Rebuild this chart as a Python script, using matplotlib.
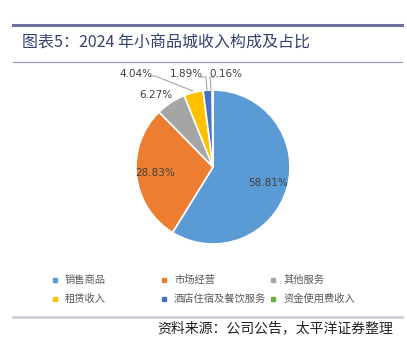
import matplotlib.pyplot as plt
from matplotlib.lines import Line2D
import numpy as np

plt.rcParams['font.family'] = ['Noto Sans CJK SC', 'DejaVu Sans']

# Data
categories = ["销售商品", "市场经营", "其他服务", "租赁收入", "酒店住宿及餐饮服务", "资金使用费收入"]
shares = [58.81, 28.83, 6.27, 4.04, 1.89, 0.16]
colors = ["#5B9BD5", "#ED7D31", "#A5A5A5", "#FFC000", "#4472C4", "#70AD47"]
title = "图表5：2024 年小商品城收入构成及占比"
source = "资料来源：公司公告，太平洋证券整理"

W, H = 407, 343
fig = plt.figure(figsize=(W / 100, H / 100), dpi=100)


def fx(px):
    return px / W


def fy(py):
    return 1 - py / H


# Header / footer rules
fig.add_artist(Line2D([fx(13), fx(402)], [fy(25), fy(25)], color="#6f6f9c", lw=2.2))
fig.add_artist(Line2D([fx(13), fx(402)], [fy(62), fy(62)], color="#9d9dc6", lw=0.9))
fig.add_artist(Line2D([fx(13), fx(402)], [fy(317), fy(317)], color="#c9c9dd", lw=1.8))
fig.text(fx(22), fy(43), title, fontsize=11.5, color="#34426e", va="center", ha="left")
fig.text(fx(393), fy(328), source, fontsize=10, color="#222222", va="center", ha="right",
         fontstyle="italic")

# Pie
cx, cy, r = 213, 167, 77
ax = fig.add_axes([fx(cx - r), fy(cy + r), 2 * r / W, 2 * r / H])
wedges, _ = ax.pie(shares, colors=colors, startangle=90, counterclock=False,
                   wedgeprops=dict(edgecolor="white", linewidth=1.2))
ax.set_xlim(-1, 1)
ax.set_ylim(-1, 1)
ax.axis("off")

lab = ["%.2f%%" % v for v in shares]
txt_kw = dict(fontsize=7.5, color="#404040", va="center", family=['DejaVu Sans'])


def mid(w):
    return np.deg2rad((w.theta1 + w.theta2) / 2)


# inside labels
for i in (0, 1):
    a = mid(wedges[i])
    ax.text(0.75 * np.cos(a), 0.75 * np.sin(a), lab[i], ha="center", **txt_kw)


def to_ax(px, py):
    return (px - cx) / r, (cy - py) / r


# outside labels
ax.text(*to_ax(156, 95), lab[2], ha="center", **txt_kw)
ax.text(*to_ax(136, 74), lab[3], ha="center", **txt_kw)
ax.text(*to_ax(186, 74), lab[4], ha="center", **txt_kw)
ax.text(*to_ax(226, 74), lab[5], ha="center", **txt_kw)

lc = "#a6a6a6"
for pts in ([(151, 76), (155, 76), (193, 91)],
            [(201, 77), (206, 77), (207, 90)],
            [(213, 77), (210, 77), (211, 90)]):
    xs, ys = zip(*[to_ax(*p) for p in pts])
    ax.plot(xs, ys, color=lc, lw=0.8, clip_on=False)

# Legend
cols_x = [55, 164, 273]
rows_y = [280, 299]
for i, (name, c) in enumerate(zip(categories, colors)):
    x = cols_x[i % 3]
    y = rows_y[i // 3]
    fig.add_artist(Line2D([fx(x)], [fy(y)], marker="s", markersize=3.5,
                          color=c, linestyle="none"))
    fig.text(fx(x + 10), fy(y), name, fontsize=7.4, color="#595959", va="center", ha="left")

fig.savefig("out.png", dpi=100)
